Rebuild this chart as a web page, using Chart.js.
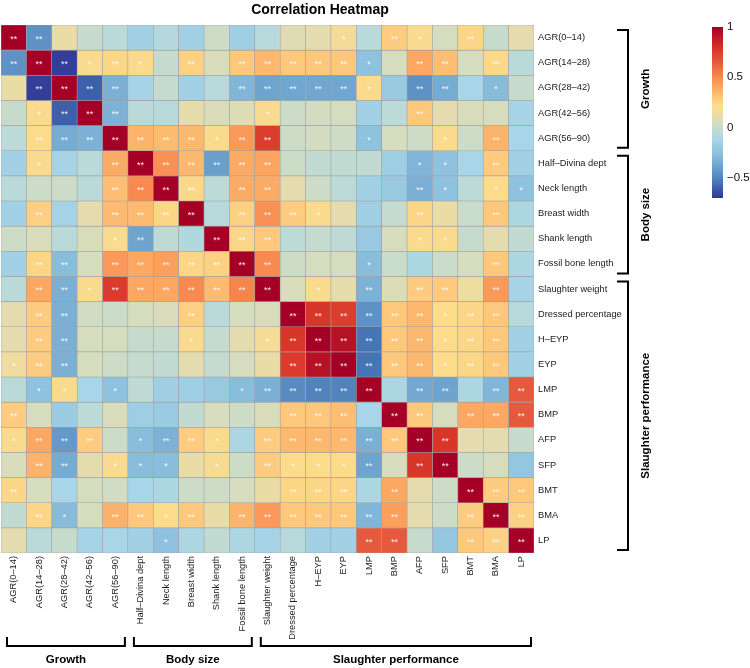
<!DOCTYPE html>
<html>
<head>
<meta charset="utf-8">
<script src="https://cdn.jsdelivr.net/npm/chart.js@4.4.0/dist/chart.umd.min.js"></script>
<style>
  html, body { margin: 0; padding: 0; background: #fff; }
  #wrap { width: 750px; height: 668px; }
</style>
</head>
<body>
<div id="wrap"><canvas id="heat" width="750" height="668"></canvas></div>
<script>
// ===============================
// data
// ===============================
const traits = [
    'AGR(0–14)', 'AGR(14–28)', 'AGR(28–42)', 'AGR(42–56)', 'AGR(56–90)',
    'Half–Divina dept', 'Neck length', 'Breast width', 'Shank length', 'Fossil bone length',
    'Slaughter weight', 'Dressed percentage', 'H–EYP', 'EYP', 'LMP', 'BMP',
    'AFP', 'SFP', 'BMT', 'BMA', 'LP'
];

// one array per row of the correlation matrix (columns in the same order as traits)
const rowAgr0_14   = [1, -0.45, 0.12, 0.00, -0.05, -0.15, -0.07, -0.15, 0.02, -0.16, -0.06, 0.08, 0.10, 0.17, -0.05, 0.28, 0.20, 0.05, 0.24, 0.00, 0.10];
const rowAgr14_28  = [-0.45, 1, -0.68, 0.20, 0.24, 0.21, 0.00, 0.26, 0.06, 0.30, 0.35, 0.30, 0.30, 0.30, -0.25, 0.05, 0.40, 0.33, 0.05, 0.23, -0.05];
const rowAgr28_42  = [0.12, -0.68, 1, -0.60, -0.33, -0.13, -0.01, -0.15, -0.06, -0.30, -0.38, -0.37, -0.37, -0.37, 0.21, -0.20, -0.45, -0.35, -0.12, -0.28, 0.00];
const rowAgr42_56  = [0.00, 0.21, -0.60, 1, -0.32, -0.05, -0.06, 0.11, 0.06, 0.07, 0.20, 0.02, 0.04, 0.05, -0.15, -0.04, 0.30, 0.10, 0.06, 0.05, -0.13];
const rowAgr56_90  = [-0.04, 0.22, -0.35, -0.32, 1, 0.36, 0.34, 0.35, 0.21, 0.45, 0.75, 0.02, 0.04, 0.02, -0.25, 0.05, 0.02, 0.21, 0.02, 0.36, -0.12];
const rowHalfDiv   = [-0.15, 0.20, -0.13, -0.05, 0.39, 1, 0.48, 0.35, -0.40, 0.39, 0.41, 0.02, -0.02, -0.02, -0.02, -0.17, -0.30, -0.25, -0.12, 0.29, -0.15];
const rowNeck      = [-0.05, 0.02, 0.02, -0.05, 0.33, 0.50, 1, 0.23, -0.04, 0.39, 0.39, 0.10, 0.02, -0.04, -0.15, -0.20, -0.33, -0.25, -0.04, 0.22, -0.25];
const rowBreast    = [-0.15, 0.27, -0.14, 0.10, 0.34, 0.34, 0.24, 1, -0.06, 0.26, 0.48, 0.28, 0.21, 0.10, -0.16, -0.01, 0.24, 0.12, 0.01, 0.30, -0.10];
const rowShank     = [0.02, 0.06, -0.05, 0.06, 0.20, -0.38, -0.03, -0.08, 1, 0.24, 0.30, -0.04, -0.01, -0.03, -0.20, 0.05, 0.21, 0.21, 0.00, 0.10, -0.02];
const rowFossil    = [-0.15, 0.24, -0.27, 0.05, 0.45, 0.40, 0.43, 0.24, 0.26, 1, 0.50, 0.02, 0.05, 0.05, -0.27, 0.01, -0.10, 0.01, 0.05, 0.30, -0.10];
const rowSlWeight  = [-0.05, 0.40, -0.33, 0.21, 0.76, 0.40, 0.40, 0.50, 0.34, 0.52, 1, 0.06, 0.20, 0.11, -0.32, 0.07, 0.28, 0.29, 0.14, 0.45, -0.13];
const rowDressed   = [0.10, 0.28, -0.33, 0.03, 0.02, 0.05, 0.06, 0.27, -0.05, 0.05, 0.06, 1, 0.78, 0.75, -0.45, 0.30, 0.35, 0.22, 0.24, 0.30, -0.06];
const rowHEyp      = [0.10, 0.28, -0.33, 0.05, 0.05, 0.00, 0.00, 0.21, -0.01, 0.10, 0.18, 0.78, 1, 0.93, -0.55, 0.30, 0.35, 0.22, 0.24, 0.30, -0.15];
const rowEyp       = [0.15, 0.28, -0.33, 0.05, 0.02, -0.01, -0.02, 0.10, -0.01, 0.05, 0.12, 0.76, 0.93, 1, -0.55, 0.30, 0.35, 0.22, 0.24, 0.30, -0.15];
const rowLmp       = [-0.05, -0.25, 0.21, -0.12, -0.25, -0.03, -0.16, -0.17, -0.20, -0.27, -0.33, -0.47, -0.50, -0.50, 1, -0.10, -0.36, -0.38, -0.10, -0.30, 0.65];
const rowBmp       = [0.28, 0.05, -0.18, -0.04, 0.06, -0.17, -0.19, -0.02, 0.05, 0.02, 0.06, 0.30, 0.30, 0.33, -0.12, 1, 0.30, 0.05, 0.40, 0.40, 0.65];
const rowAfp       = [0.20, 0.40, -0.42, 0.28, 0.02, -0.27, -0.32, 0.28, 0.21, -0.10, 0.28, 0.35, 0.35, 0.35, -0.33, 0.30, 1, 0.78, 0.10, 0.10, 0.00];
const rowSfp       = [0.06, 0.36, -0.35, 0.10, 0.20, -0.27, -0.27, 0.12, 0.19, 0.02, 0.28, 0.22, 0.22, 0.22, -0.38, 0.05, 0.78, 1, 0.02, 0.05, -0.22];
const rowBmt       = [0.24, 0.05, -0.12, 0.05, 0.03, -0.12, -0.10, 0.02, 0.02, 0.05, 0.12, 0.24, 0.24, 0.24, -0.10, 0.40, 0.10, 0.02, 1, 0.28, 0.30];
const rowBma       = [-0.02, 0.24, -0.28, 0.05, 0.37, 0.30, 0.22, 0.30, 0.12, 0.36, 0.45, 0.30, 0.30, 0.30, -0.30, 0.43, 0.10, 0.02, 0.28, 1, 0.26];
const rowLp        = [0.10, -0.05, 0.00, -0.13, -0.12, -0.15, -0.25, -0.10, -0.02, -0.10, -0.13, -0.06, -0.15, -0.15, 0.65, 0.65, 0.00, -0.22, 0.30, 0.26, 1];

const corrRows = [
    rowAgr0_14, rowAgr14_28, rowAgr28_42, rowAgr42_56, rowAgr56_90,
    rowHalfDiv, rowNeck, rowBreast, rowShank, rowFossil,
    rowSlWeight, rowDressed, rowHEyp, rowEyp, rowLmp, rowBmp,
    rowAfp, rowSfp, rowBmt, rowBma, rowLp
];

// significance per cell: 0 = none, 1 = *, 2 = **
const sigCodes = [
    '220000000000010210200',
    '222121020222221022020',
    '022220000222221022010',
    '012220000010000020000',
    '022222221220001001020',
    '010022222220000011020',
    '000022220220000021011',
    '020022220222100020020',
    '000012002220000011000',
    '022022222220001000020',
    '022122222220102022020',
    '022000020002222221220',
    '022000010012222221220',
    '122000000002222221220',
    '011010000122222022022',
    '200000000002220220222',
    '122201221022222222000',
    '022011101021112022000',
    '200000000002220200222',
    '021022120222222200222',
    '000000100000002200222'
];

// trait groups (index ranges into traits)
const groupNames = ['Growth', 'Body size', 'Slaughter performance'];
const groupStart = [0, 5, 10];
const groupEnd   = [4, 9, 20];

// colour bar
const cbarMin = -0.7;
const cbarMax = 1;
const cbarTicks = [1, 0.5, 0, -0.5];
const cbarTickText = ['1', '0.5', '0', '−0.5'];

// ===============================
// colours
// ===============================
const palette = [
    [-0.70, '#313695'], [-0.55, '#4575b4'], [-0.40, '#6a9fcc'], [-0.25, '#8ec2de'],
    [-0.12, '#a8d5e7'], [-0.04, '#bcdad7'], [0.02, '#cddcc7'], [0.08, '#dfdcb4'],
    [0.15, '#f0dc9e'], [0.22, '#fcdb8b'], [0.30, '#fdc77c'], [0.40, '#fca862'],
    [0.50, '#f88a50'], [0.65, '#e55a3c'], [0.80, '#d73027'], [1.00, '#a50026']
];

function hexRgb(h) {
    return [parseInt(h.slice(1, 3), 16), parseInt(h.slice(3, 5), 16), parseInt(h.slice(5, 7), 16)];
}

function corrColor(v) {
    if (v <= palette[0][0]) return palette[0][1];
    for (let i = 1; i < palette.length; i++) {
        if (v <= palette[i][0]) {
            const [v0, c0] = palette[i - 1];
            const [v1, c1] = palette[i];
            const t = (v - v0) / (v1 - v0);
            const a = hexRgb(c0), b = hexRgb(c1);
            const m = a.map((x, k) => Math.round(x + (b[k] - x) * t));
            return `rgb(${m[0]},${m[1]},${m[2]})`;
        }
    }
    return palette[palette.length - 1][1];
}

// ===============================
// extras: stars, title, colour bar, brackets
// ===============================
const FONT = '"Liberation Sans", Arial, Helvetica, sans-serif';

const heatExtras = {
    id: 'heatExtras',
    afterDatasetsDraw(chart) {
        const ctx = chart.ctx;
        ctx.save();
        ctx.fillStyle = 'rgba(255,255,255,0.92)';
        ctx.font = `9px ${FONT}`;
        ctx.textAlign = 'center';
        ctx.textBaseline = 'middle';
        chart.data.datasets.forEach((ds, r) => {
            const meta = chart.getDatasetMeta(r);
            meta.data.forEach((el, c) => {
                const code = sigCodes[r][c];
                if (code === '0') return;
                const p = el.getProps(['x', 'y', 'base'], true);
                ctx.fillText(code === '2' ? '**' : '*', p.x, (p.y + p.base) / 2 + 2);
            });
        });
        ctx.restore();
    },
    afterDraw(chart) {
        const ctx = chart.ctx;
        const xs = chart.scales.x;
        const ys = chart.scales.y;
        const area = chart.chartArea;
        ctx.save();

        // title
        ctx.fillStyle = '#000';
        ctx.font = `bold 14px ${FONT}`;
        ctx.textAlign = 'center';
        ctx.textBaseline = 'alphabetic';
        ctx.fillText('Correlation Heatmap', 320, 14);

        // colour bar
        const cbX = 712, cbW = 11, cbTop = 27, cbBot = 198;
        const grad = ctx.createLinearGradient(0, cbTop, 0, cbBot);
        palette.forEach(([v, c]) => {
            grad.addColorStop((cbarMax - v) / (cbarMax - cbarMin), c);
        });
        ctx.fillStyle = grad;
        ctx.fillRect(cbX, cbTop, cbW, cbBot - cbTop);
        ctx.fillStyle = '#111';
        ctx.font = `11.5px ${FONT}`;
        ctx.textAlign = 'left';
        ctx.textBaseline = 'middle';
        cbarTicks.forEach((t, i) => {
            const y = cbTop + (cbarMax - t) / (cbarMax - cbarMin) * (cbBot - cbTop);
            ctx.fillText(cbarTickText[i], cbX + cbW + 4, y);
        });

        // brackets
        ctx.strokeStyle = '#000';
        ctx.lineWidth = 2;
        ctx.fillStyle = '#000';
        ctx.font = `bold 11.5px ${FONT}`;
        const cellW = (area.right - area.left) / traits.length;
        const bx = 628;
        const by = 646;

        groupNames.forEach((name, g) => {
            // right side
            const yTop = ys.getPixelForValue(groupStart[g]) + 5;
            const yBot = ys.getPixelForValue(groupEnd[g] + 1) - 3;
            ctx.beginPath();
            ctx.moveTo(bx - 11, yTop);
            ctx.lineTo(bx, yTop);
            ctx.lineTo(bx, yBot);
            ctx.lineTo(bx - 11, yBot);
            ctx.stroke();
            ctx.save();
            ctx.translate(bx + 18, (yTop + yBot) / 2);
            ctx.rotate(-Math.PI / 2);
            ctx.textAlign = 'center';
            ctx.textBaseline = 'middle';
            ctx.fillText(name, 0, 0);
            ctx.restore();

            // bottom
            const xL = xs.getPixelForValue(groupStart[g]) - cellW / 2 + 6;
            const xR = xs.getPixelForValue(groupEnd[g]) + cellW / 2 - 3;
            ctx.beginPath();
            ctx.moveTo(xL, by - 9);
            ctx.lineTo(xL, by);
            ctx.lineTo(xR, by);
            ctx.lineTo(xR, by - 9);
            ctx.stroke();
            ctx.textAlign = 'center';
            ctx.textBaseline = 'middle';
            ctx.fillText(name, (xL + xR) / 2, 660);
        });

        ctx.restore();
    }
};

// ===============================
// chart
// ===============================
Chart.defaults.font.family = FONT;

const datasets = corrRows.map((row, r) => ({
    label: traits[r],
    data: traits.map(() => 1),
    backgroundColor: row.map(v => corrColor(v)),
    borderColor: '#a0a0a0',
    borderWidth: 0.6,
    borderSkipped: false,
    barPercentage: 1,
    categoryPercentage: 1
}));

new Chart(document.getElementById('heat'), {
    type: 'bar',
    data: { labels: traits, datasets: datasets },
    options: {
        responsive: false,
        animation: false,
        devicePixelRatio: 1,
        layout: { padding: { top: 25, left: 1, right: 0, bottom: 0 } },
        plugins: {
            legend: { display: false },
            tooltip: { enabled: false },
            title: { display: false }
        },
        scales: {
            x: {
                stacked: true,
                grid: { display: false, drawTicks: false },
                border: { display: false },
                ticks: {
                    autoSkip: false,
                    minRotation: 90,
                    maxRotation: 90,
                    padding: 3,
                    color: '#1a1a1a',
                    font: { size: 9.3 }
                },
                afterFit: s => { s.height = 115; }
            },
            y: {
                type: 'linear',
                position: 'right',
                stacked: true,
                reverse: true,
                min: 0,
                max: 21,
                grid: { display: false, drawTicks: false },
                border: { display: false },
                afterBuildTicks: s => { s.ticks = traits.map((t, i) => ({ value: i + 0.5 })); },
                ticks: {
                    autoSkip: false,
                    padding: 4,
                    color: '#1a1a1a',
                    font: { size: 9.3 },
                    callback: (v, i) => traits[i]
                },
                afterFit: s => { s.width = 216; }
            }
        }
    },
    plugins: [heatExtras]
});
</script>
</body>
</html>
